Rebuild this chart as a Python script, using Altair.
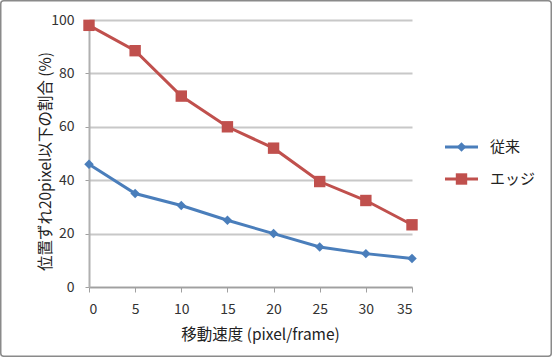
import altair as alt
import pandas as pd

speeds = [0, 5, 10, 15, 20, 25, 30, 35]
conventional = [46, 35, 30.5, 25, 20, 15, 12.5, 10.7]
edge = [98, 88.5, 71.5, 60, 52, 39.5, 32.4, 23.3]
series_names = ["従来", "エッジ"]
colors = ["#4A7EBB", "#C0504D"]
y_ticks = [0, 20, 40, 60, 80, 100]

df = pd.DataFrame({
    "speed": speeds * 2,
    "value": conventional + edge,
    "series": [series_names[0]] * len(speeds) + [series_names[1]] * len(speeds),
})

FONT = "Noto Sans CJK JP"
W, H = 323, 267
PAD_L, PAD_T = 89, 20

x_enc = alt.X("speed:Q", scale=alt.Scale(domain=[0, 35], nice=False),
              axis=alt.Axis(values=speeds, title="移動速度 (pixel/frame)", grid=False,
                            tickSize=5, labelPadding=10,
                            titleX=171, titleY=47, titleBaseline="middle", titleAlign="center",
                            domainColor="#a0a0a0", tickColor="#a0a0a0", domainWidth=1.5))
y_enc = alt.Y("value:Q", scale=alt.Scale(domain=[0, 100], nice=False),
              axis=alt.Axis(values=y_ticks, title="位置ずれ20pixel以下の割合 (%)",
                            grid=True, gridColor="#c8c8c8", gridWidth=2,
                            tickSize=4, labelPadding=11,
                            titleX=-44, titleY=141, titleBaseline="middle", titleAlign="center",
                            domainColor="#b0b0b0", tickColor="#a0a0a0", domainWidth=2))
color_enc = alt.Color("series:N", scale=alt.Scale(domain=series_names, range=colors), legend=None)

base = alt.Chart(df)
lines = base.mark_line(strokeWidth=3).encode(x=x_enc, y=y_enc, color=color_enc)
pts_conv = base.transform_filter(alt.datum.series == series_names[0]).mark_point(
    shape="diamond", filled=True, size=90, opacity=1).encode(x="speed:Q", y="value:Q", color=color_enc)
pts_edge = base.transform_filter(alt.datum.series == series_names[1]).mark_point(
    shape="square", filled=True, size=130, opacity=1).encode(x="speed:Q", y="value:Q", color=color_enc)

# manual legend
leg_layers = []
leg_y = [127, 159]
shapes = ["diamond", "square"]
sizes = [90, 130]
for i, name in enumerate(series_names):
    ld = pd.DataFrame({"series": [name]})
    lb = alt.Chart(ld)
    leg_layers.append(lb.mark_rule(strokeWidth=3, color=colors[i]).encode(
        x=alt.value(356), x2=alt.value(389), y=alt.value(leg_y[i])))
    leg_layers.append(lb.mark_point(shape=shapes[i], filled=True, size=sizes[i], opacity=1,
                                    color=colors[i]).encode(x=alt.value(372.5), y=alt.value(leg_y[i])))
    leg_layers.append(lb.mark_text(align="left", baseline="middle", font=FONT, fontSize=15,
                                   color="#222222").encode(
        x=alt.value(401), y=alt.value(leg_y[i]), text="series:N"))

frame = alt.Chart(pd.DataFrame({"a": [0]})).mark_rect(
    fill=None, stroke="#8a8a8a", strokeWidth=1.5, cornerRadius=3).encode(
    x=alt.value(-PAD_L + 0.75), x2=alt.value(552 - PAD_L - 0.75),
    y=alt.value(-PAD_T + 0.75), y2=alt.value(357 - PAD_T - 0.75))

chart = alt.layer(frame, lines, pts_conv, pts_edge, *leg_layers).properties(
    width=W, height=H,
    autosize=alt.AutoSizeParams(type="none"),
    padding={"left": PAD_L, "top": PAD_T, "right": 552 - PAD_L - W, "bottom": 357 - PAD_T - H},
    background="white",
).configure_view(stroke=None).configure_axis(
    labelFont=FONT, titleFont=FONT, labelFontSize=14, titleFontSize=15.5,
    labelColor="#333333", titleColor="#222222", titleFontWeight="normal",
)

chart.save("out.html", embed_options={"renderer": "svg", "actions": False})
